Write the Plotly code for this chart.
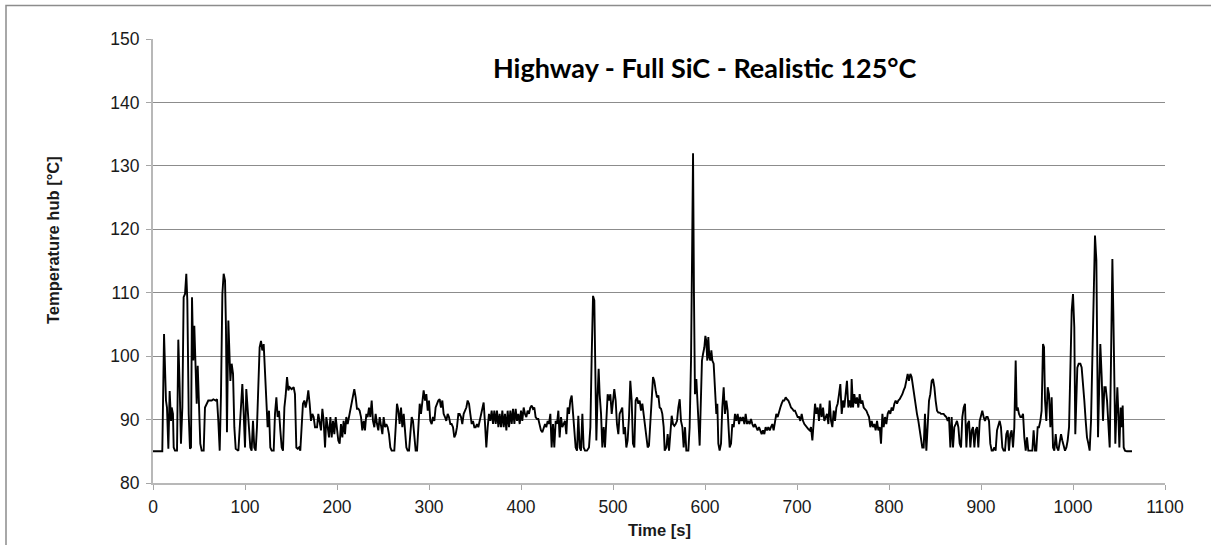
import plotly.graph_objects as go

# Time [s]
time_s = [
    0, 10.1, 12.0, 14.1, 15.2, 16.7, 18.1, 19.6, 20.3, 21.7, 22.5, 23.9, 26.1, 27.5, 29.0, 30.4, 31.9, 33.3, 34.8, 36.2,
    37.3, 38.8, 40.2, 41.3, 42.4, 43.8, 44.9, 46.4, 47.5, 48.6, 50.0, 51.4, 52.9, 55.1, 56.5, 58.3, 60.1, 63.8, 65.6, 68.1,
    69.6, 71.0, 72.5, 73.9, 75.4, 76.8, 78.3, 79.3, 80.4, 81.9, 83.0, 84.1, 85.5, 87.0, 88.4, 89.9, 92.8, 94.2, 95.7, 97.1,
    98.6, 100.0, 101.4, 102.9, 104.3, 105.8, 107.2, 108.7, 110.1, 111.6, 113.0, 114.5, 115.9, 117.4, 118.8, 120.3, 121.7, 123.2, 124.6, 126.1,
    127.5, 129.0, 131.2, 132.6, 134.1, 135.5, 137.0, 138.4, 139.9, 141.3, 142.8, 144.2, 145.7, 147.1, 148.6, 150.7, 152.9, 154.3, 155.8, 157.2,
    158.7, 160.1, 161.6, 163.0, 164.5, 165.9, 167.4, 168.8, 170.3, 171.7, 173.2, 174.6, 176.1, 178.3, 179.7, 181.2, 182.6, 184.1, 185.5, 187.0,
    188.4, 189.9, 191.3, 192.8, 194.2, 195.7, 197.1, 198.6, 200.0, 201.4, 202.9, 204.3, 205.8, 207.2, 208.7, 210.1, 211.6, 213.0, 214.5, 215.9,
    217.4, 218.8, 220.3, 221.7, 223.2, 224.6, 226.1, 227.5, 229.0, 230.4, 231.9, 233.3, 234.8, 236.2, 237.7, 239.1, 240.6, 242.0, 243.5, 244.9,
    246.4, 247.8, 249.3, 250.7, 252.2, 253.6, 255.1, 256.5, 258.0, 259.4, 262.3, 263.8, 265.2, 266.7, 268.1, 269.6, 271.0, 272.5, 273.9, 275.4,
    276.8, 278.3, 279.7, 281.2, 282.6, 284.1, 285.5, 287.0, 288.4, 289.9, 291.3, 292.8, 294.2, 295.7, 297.1, 298.6, 300.0, 301.4, 302.9, 304.3,
    305.8, 307.2, 308.7, 310.1, 311.6, 313.0, 314.5, 315.9, 317.4, 318.8, 320.3, 321.7, 323.2, 324.6, 326.1, 327.5, 329.0, 330.4, 331.9, 333.3,
    334.8, 336.2, 337.7, 339.1, 340.6, 342.0, 343.5, 344.9, 346.4, 347.8, 349.3, 350.7, 352.2, 353.6, 355.1, 356.5, 358.0, 359.4, 360.9, 362.3,
    363.8, 365.2, 366.7, 368.1, 369.6, 371.0, 372.5, 373.9, 375.4, 376.8, 378.3, 379.7, 381.2, 382.6, 384.1, 385.5, 387.0, 388.4, 389.9, 391.3,
    392.8, 394.2, 395.7, 397.1, 398.6, 400.0, 401.4, 402.9, 404.3, 405.8, 407.2, 408.7, 410.1, 411.6, 413.0, 414.5, 415.9, 417.4, 418.8, 420.3,
    421.7, 423.2, 424.6, 426.1, 427.5, 429.0, 430.4, 431.9, 433.3, 434.8, 436.2, 437.7, 439.1, 440.6, 442.0, 443.5, 444.9, 446.4, 447.8, 449.3,
    450.7, 452.2, 453.6, 455.1, 456.5, 458.0, 459.4, 460.9, 462.3, 463.8, 465.2, 466.7, 468.1, 469.6, 471.7, 473.9, 475.4, 476.8, 478.3, 479.7,
    480.8, 481.9, 483.3, 484.4, 485.5, 487.0, 488.4, 489.9, 491.3, 492.8, 494.2, 495.7, 497.1, 498.6, 500.0, 501.4, 502.9, 504.3, 505.8, 507.2,
    508.7, 510.1, 511.6, 513.0, 514.5, 515.9, 517.4, 518.8, 520.3, 521.7, 523.2, 524.6, 526.1, 527.5, 529.0, 530.4, 531.9, 533.3, 534.8, 536.2,
    537.7, 539.1, 540.6, 542.0, 543.5, 544.9, 546.4, 547.8, 549.3, 550.7, 552.2, 553.6, 555.1, 556.2, 558.0, 559.4, 560.9, 562.3, 563.8, 565.2,
    566.7, 568.1, 569.6, 571.0, 572.5, 573.9, 575.4, 576.8, 578.3, 579.7, 581.9, 583.3, 584.8, 585.9, 587.0, 588.0, 589.1, 590.6, 592.0, 593.1,
    594.2, 595.7, 596.7, 597.8, 599.3, 600.4, 601.4, 602.5, 603.6, 604.7, 605.8, 606.9, 608.0, 609.4, 610.9, 612.3, 613.4, 614.5, 615.9, 617.4,
    618.8, 620.3, 621.7, 623.2, 624.6, 625.7, 626.8, 628.3, 629.7, 631.2, 632.6, 634.1, 635.5, 637.0, 638.4, 639.9, 641.3, 642.8, 644.2, 645.7,
    647.1, 648.6, 650.0, 651.4, 652.9, 654.3, 655.8, 657.2, 658.7, 660.1, 661.6, 663.0, 664.5, 665.9, 667.4, 668.8, 670.3, 671.7, 673.2, 674.6,
    676.1, 677.5, 679.0, 680.4, 681.9, 683.3, 684.8, 686.2, 687.7, 689.1, 690.6, 692.0, 693.5, 694.9, 696.4, 697.8, 699.3, 700.7, 702.2, 703.6,
    705.1, 706.5, 708.0, 709.4, 710.9, 712.3, 713.8, 715.2, 716.7, 718.1, 719.6, 721.0, 722.5, 723.9, 725.4, 726.8, 728.3, 729.7, 731.2, 732.6,
    734.1, 735.5, 737.0, 738.4, 739.9, 741.3, 742.8, 744.2, 745.7, 747.1, 748.6, 750.0, 751.4, 752.9, 754.3, 755.8, 757.2, 758.7, 759.4, 760.9,
    762.3, 763.8, 765.2, 766.7, 768.1, 769.6, 771.0, 772.5, 773.9, 775.4, 776.8, 778.3, 779.7, 781.2, 782.6, 784.1, 785.5, 787.0, 788.4, 789.9,
    791.3, 792.8, 794.2, 795.7, 797.1, 798.6, 800.0, 801.4, 802.9, 804.3, 805.8, 807.2, 808.7, 810.1, 811.6, 813.0, 814.5, 815.9, 817.4, 818.8,
    820.3, 821.7, 823.2, 824.6, 826.1, 827.5, 829.0, 830.4, 831.9, 833.3, 834.8, 836.2, 837.7, 839.1, 840.6, 842.0, 843.5, 844.9, 846.4, 847.8,
    849.3, 850.7, 852.2, 853.6, 855.1, 856.5, 858.0, 859.4, 860.9, 862.3, 863.8, 865.2, 866.7, 868.1, 869.6, 871.0, 872.5, 873.9, 875.4, 876.8,
    878.3, 879.7, 881.2, 882.6, 884.1, 885.5, 887.0, 888.4, 889.9, 891.3, 892.8, 894.2, 895.7, 897.1, 898.6, 900.0, 901.4, 902.9, 904.3, 905.8,
    907.2, 908.7, 910.1, 911.6, 913.0, 914.5, 915.9, 917.4, 918.8, 920.3, 921.7, 923.2, 924.6, 926.1, 927.5, 929.0, 930.4, 931.9, 933.3, 934.8,
    936.2, 937.7, 938.8, 939.9, 941.3, 942.8, 944.2, 945.7, 947.1, 948.6, 950.0, 951.4, 955.8, 957.2, 958.7, 960.1, 961.6, 963.0, 964.5, 965.9,
    967.4, 968.5, 969.6, 971.0, 972.5, 973.9, 975.4, 976.8, 978.3, 979.7, 981.2, 982.6, 984.1, 985.5, 987.0, 988.4, 989.9, 991.3, 992.8, 994.2,
    995.7, 997.1, 998.6, 1000.0, 1001.4, 1002.5, 1003.6, 1004.7, 1006.2, 1008.0, 1009.4, 1010.9, 1012.3, 1013.8, 1015.2, 1016.7, 1018.1, 1019.6, 1021.0, 1022.5,
    1023.9, 1025.4, 1026.4, 1027.2, 1028.3, 1029.7, 1031.2, 1032.6, 1034.1, 1035.5, 1037.0, 1038.4, 1039.9, 1041.3, 1042.8, 1043.8, 1044.9, 1046.0, 1047.1, 1048.2,
    1049.3, 1050.4, 1051.8, 1052.9, 1054.0, 1055.1, 1056.5, 1058.7, 1064.1,
]

# Temperature hub [°C]
temp_c = [
    85.0, 85.0, 103.5, 93.0, 91.9, 85.4, 94.5, 89.8, 91.9, 90.9, 85.6, 85.1, 85.1, 102.6, 95.1, 86.2, 91.9, 109.3, 109.8, 113.0,
    108.8, 90.9, 85.4, 85.6, 109.3, 99.3, 104.8, 99.3, 92.5, 98.5, 92.5, 86.2, 85.1, 85.1, 91.9, 92.5, 93.0, 93.0, 93.2, 93.0,
    93.2, 89.8, 85.1, 94.0, 109.8, 113.0, 111.9, 104.6, 88.0, 105.6, 101.4, 96.1, 98.8, 97.2, 88.8, 85.4, 85.1, 88.8, 91.4, 95.6,
    90.9, 85.6, 94.8, 91.9, 89.8, 85.6, 85.1, 89.8, 85.6, 85.1, 88.8, 95.1, 101.4, 102.4, 100.9, 101.9, 97.7, 90.9, 88.8, 91.4,
    85.6, 85.1, 85.1, 90.9, 93.5, 90.4, 91.4, 88.3, 85.6, 85.1, 91.9, 93.8, 96.7, 94.6, 95.1, 94.8, 95.1, 94.0, 85.6, 85.4,
    85.6, 85.1, 88.8, 92.5, 93.0, 91.9, 93.0, 94.6, 92.5, 89.8, 90.9, 90.4, 88.8, 88.8, 90.9, 89.8, 88.3, 91.7, 89.8, 85.6,
    90.4, 88.8, 87.2, 90.4, 87.2, 89.8, 87.7, 90.4, 88.8, 86.7, 86.2, 89.3, 87.2, 89.8, 87.7, 90.4, 89.3, 90.4, 91.7, 93.0,
    94.0, 94.8, 93.5, 91.7, 91.7, 91.4, 90.4, 88.3, 89.8, 88.3, 90.9, 90.4, 91.9, 90.4, 93.0, 89.8, 88.8, 90.9, 89.3, 88.3,
    90.4, 88.8, 87.7, 90.4, 88.8, 89.3, 88.8, 87.7, 85.6, 85.1, 85.1, 88.8, 92.5, 91.4, 89.3, 91.9, 88.8, 90.9, 87.7, 85.6,
    85.1, 85.1, 87.7, 90.4, 89.8, 87.2, 85.1, 85.1, 89.8, 92.5, 90.9, 93.0, 94.6, 93.0, 94.0, 91.4, 93.0, 89.8, 89.3, 90.4,
    89.8, 91.9, 92.5, 93.0, 93.2, 91.9, 93.0, 90.9, 90.4, 89.8, 90.9, 90.4, 89.3, 89.3, 88.8, 87.2, 87.7, 88.8, 90.9, 90.9,
    90.4, 89.3, 90.9, 91.4, 91.9, 93.0, 92.5, 90.9, 89.3, 89.8, 88.8, 88.8, 89.3, 88.8, 89.8, 90.9, 91.9, 92.7, 89.3, 85.6,
    88.8, 90.9, 89.8, 91.4, 89.3, 91.4, 89.3, 91.4, 88.8, 90.9, 88.8, 91.4, 88.8, 90.9, 88.3, 91.4, 88.8, 91.4, 89.3, 91.7,
    89.3, 91.7, 89.8, 90.9, 89.3, 91.4, 89.8, 91.9, 90.9, 90.4, 91.4, 90.9, 91.9, 92.2, 91.7, 91.9, 90.4, 90.1, 90.1, 89.3,
    88.3, 88.0, 88.8, 89.3, 88.8, 89.8, 89.3, 90.9, 85.6, 89.3, 85.6, 89.8, 89.3, 91.4, 87.2, 90.4, 88.8, 89.3, 89.8, 87.7,
    91.9, 90.9, 93.0, 93.8, 90.9, 88.8, 85.6, 85.1, 90.6, 85.6, 85.1, 90.9, 85.6, 85.1, 85.1, 85.6, 88.8, 99.8, 109.5, 108.8,
    99.3, 86.7, 94.0, 98.0, 94.0, 90.9, 85.6, 88.8, 85.6, 89.8, 94.0, 93.0, 94.0, 90.9, 92.5, 94.8, 93.0, 89.3, 87.7, 90.9,
    91.4, 91.9, 87.7, 88.8, 85.6, 86.7, 90.4, 96.1, 93.0, 86.2, 85.6, 93.0, 93.5, 92.5, 93.0, 91.4, 92.5, 90.9, 88.8, 86.7,
    85.6, 85.9, 88.8, 93.0, 96.7, 96.1, 94.6, 93.5, 93.8, 91.9, 91.7, 90.9, 88.8, 85.1, 85.6, 87.7, 85.1, 88.3, 90.6, 89.3,
    89.0, 89.3, 89.8, 91.9, 93.2, 89.8, 88.8, 85.6, 88.8, 85.1, 85.1, 88.8, 99.3, 115.1, 132.0, 109.8, 94.0, 96.4, 91.4, 87.7,
    85.9, 94.0, 99.3, 100.3, 101.4, 103.2, 102.4, 99.3, 103.0, 99.8, 99.3, 100.9, 99.3, 98.8, 95.1, 90.9, 92.5, 86.2, 85.1, 86.2,
    91.9, 95.1, 90.9, 93.0, 91.4, 88.8, 85.6, 86.2, 89.3, 88.8, 90.9, 89.8, 90.9, 89.3, 90.4, 89.8, 90.4, 89.3, 90.9, 89.3,
    89.8, 89.3, 90.1, 89.3, 88.8, 89.3, 88.8, 88.3, 88.8, 88.3, 87.7, 88.3, 87.7, 88.8, 88.3, 88.8, 88.3, 88.8, 89.3, 88.3,
    89.8, 90.9, 90.4, 91.4, 91.9, 92.5, 93.0, 93.0, 93.5, 93.2, 93.0, 92.5, 91.9, 91.7, 91.4, 91.4, 90.9, 90.4, 90.4, 89.8,
    90.9, 89.8, 89.3, 89.0, 88.8, 88.5, 88.3, 88.8, 86.7, 89.8, 92.5, 90.9, 91.9, 89.8, 92.5, 90.4, 91.9, 89.8, 90.4, 90.9,
    89.3, 93.0, 89.8, 88.8, 91.4, 89.8, 91.9, 92.5, 94.0, 95.6, 90.9, 93.0, 91.9, 94.0, 96.1, 91.9, 93.0, 91.9, 96.4, 91.9,
    94.0, 92.5, 93.5, 91.9, 94.0, 92.5, 93.0, 91.9, 91.7, 91.4, 90.9, 90.4, 88.8, 89.8, 88.8, 89.3, 88.3, 89.8, 88.3, 88.8,
    86.2, 90.9, 88.8, 90.4, 89.3, 90.9, 91.4, 90.9, 91.9, 91.4, 92.5, 93.0, 92.5, 93.0, 93.2, 93.5, 94.0, 94.6, 95.1, 96.1,
    97.2, 96.1, 97.2, 96.7, 95.1, 94.0, 91.9, 90.9, 89.8, 88.3, 86.7, 85.6, 85.6, 90.9, 85.1, 88.3, 93.0, 94.0, 96.1, 96.4,
    95.1, 93.0, 91.4, 91.1, 91.1, 90.9, 90.9, 90.9, 90.6, 90.4, 89.8, 90.4, 85.6, 90.4, 85.6, 88.8, 89.3, 89.8, 88.8, 86.2,
    85.6, 90.4, 91.9, 92.5, 85.6, 89.3, 89.8, 85.6, 88.3, 88.8, 85.6, 88.3, 88.8, 85.6, 89.8, 90.9, 91.4, 90.4, 89.8, 90.4,
    90.4, 89.8, 86.2, 85.1, 85.1, 85.6, 85.1, 88.3, 89.3, 89.8, 88.8, 85.6, 85.1, 85.1, 87.7, 88.3, 85.1, 87.7, 88.3, 85.6,
    88.8, 99.3, 91.4, 91.9, 90.9, 90.4, 90.4, 90.9, 87.2, 85.1, 87.2, 85.1, 85.1, 88.3, 85.1, 85.1, 88.8, 88.8, 89.8, 91.4,
    101.9, 101.4, 93.0, 89.8, 95.1, 94.0, 88.8, 93.5, 85.6, 85.1, 87.7, 85.6, 85.1, 86.2, 87.7, 86.7, 85.6, 85.1, 85.6, 86.7,
    88.8, 99.3, 107.2, 109.8, 104.6, 87.7, 94.0, 98.2, 98.8, 98.8, 98.2, 96.1, 93.0, 89.8, 87.2, 86.2, 85.1, 89.8, 99.3, 109.8,
    119.0, 115.1, 94.0, 87.2, 94.0, 101.9, 96.7, 89.8, 95.1, 95.1, 93.0, 88.8, 85.6, 99.3, 115.3, 107.2, 94.0, 86.2, 90.9, 95.1,
    90.9, 85.6, 91.9, 88.8, 92.2, 85.6, 85.1, 85.0, 85.0,
]

title_text = "Highway - Full SiC - Realistic 125°C"
x_title = "Time [s]"
y_title = "Temperature hub [°C]"

fig = go.Figure()
fig.add_trace(go.Scatter(
    x=time_s, y=temp_c, mode="lines",
    line=dict(color="#000000", width=1.9),
    showlegend=False, hoverinfo="skip",
))

W, H = 1211, 545
L, R, T, B = 153, 46, 39, 62
pw, ph = W - L - R, H - T - B

def px(x):
    return (x - L) / pw

def py(y):
    return (H - B - y) / ph

fig.update_layout(
    width=W, height=H,
    margin=dict(l=L, r=R, t=T, b=B, pad=0),
    paper_bgcolor="white", plot_bgcolor="white",
    font=dict(family="Liberation Sans, Arial, sans-serif", color="#1a1a1a"),
    showlegend=False,
    xaxis=dict(
        range=[0, 1100], dtick=100, tick0=0,
        showgrid=False, zeroline=False,
        showline=True, linecolor="#b8b8b8", linewidth=2,
        ticks="outside", ticklen=5, tickwidth=1, tickcolor="#a6a6a6",
        tickfont=dict(size=17.5, color="#1a1a1a"),
        ticklabelstandoff=2,
    ),
    yaxis=dict(
        range=[80, 150], dtick=10, tick0=80,
        showgrid=True, gridcolor="#8c8c8c", gridwidth=1,
        zeroline=False,
        showline=True, linecolor="#b8b8b8", linewidth=2,
        ticks="outside", ticklen=5, tickwidth=1, tickcolor="#a6a6a6",
        tickfont=dict(size=17.5, color="#1a1a1a"),
        ticklabelstandoff=3,
    ),
    annotations=[
        dict(text="<b>" + title_text + "</b>", xref="paper", yref="paper",
             x=px(705), y=py(67), xanchor="center", yanchor="middle", showarrow=False,
             font=dict(family="Lato, Open Sans, sans-serif", size=27, color="#000000")),
        dict(text="<b>" + y_title + "</b>", xref="paper", yref="paper",
             x=px(53), y=py(240), xanchor="center", yanchor="middle", showarrow=False,
             textangle=-90,
             font=dict(family="Liberation Sans, Arial, sans-serif", size=16.5, color="#1a1a1a")),
        dict(text="<b>" + x_title + "</b>", xref="paper", yref="paper",
             x=px(659), y=py(530), xanchor="center", yanchor="middle", showarrow=False,
             font=dict(family="Liberation Sans, Arial, sans-serif", size=16.5, color="#1a1a1a")),
    ],
    shapes=[
        dict(type="rect", xref="paper", yref="paper",
             x0=px(6), x1=px(1230), y0=py(5.5), y1=py(560),
             line=dict(color="#8c8c8c", width=1.5), fillcolor="rgba(0,0,0,0)", layer="below"),
    ],
)

fig.write_html("out.html")
